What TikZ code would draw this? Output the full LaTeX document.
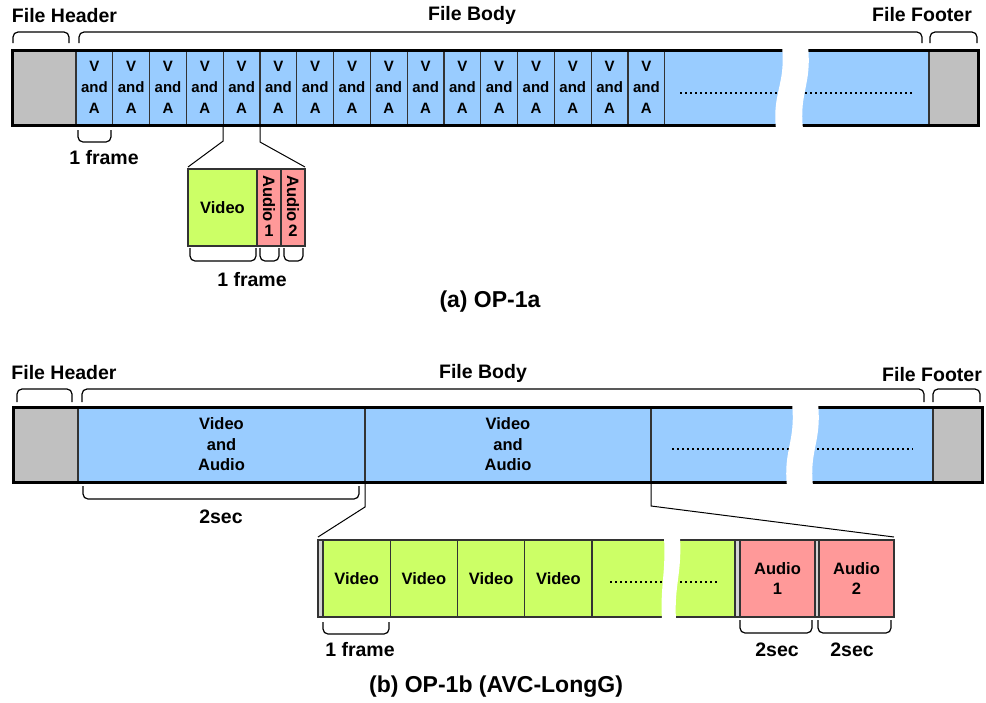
\documentclass[tikz,border=0pt]{standalone}
\usepackage{fontspec}
\setmainfont{Liberation Sans}
\usetikzlibrary{calc, positioning}
\definecolor{bodyBlue}{HTML}{99CCFF}
\definecolor{hdrGrey}{HTML}{C0C0C0}
\definecolor{vidGreen}{HTML}{CCFF66}
\definecolor{audPink}{HTML}{FF9999}
\definecolor{edgeGrey}{HTML}{333333}
\tikzset{
  seg/.style    = {draw=edgeGrey, line width=1.2pt, inner sep=0pt, outer sep=0pt,
                   anchor=north west, minimum height=75pt, align=center},
  hdr/.style    = {seg, fill=hdrGrey},
  cell/.style   = {seg, fill=bodyBlue, font=\fontsize{15}{21}\selectfont\bfseries},
  bigcell/.style= {seg, fill=bodyBlue, font=\fontsize{16.5}{20.5}\selectfont\bfseries},
  vid/.style    = {seg, fill=vidGreen, minimum height=77pt, font=\fontsize{16.5}{20}\selectfont\bfseries},
  aud/.style    = {seg, fill=audPink, minimum height=77pt, font=\fontsize{16.5}{20}\selectfont\bfseries},
  strip/.style  = {seg, fill=hdrGrey!70, minimum height=77pt},
  frame/.style  = {draw=black, line width=3pt},
  brc/.style    = {draw=black, line width=1.2pt, rounded corners=5pt},
  zl/.style     = {draw=black, line width=1pt},
  dots/.style   = {draw=black, line width=2pt, dash pattern=on 2pt off 3pt},
  gap/.style    = {fill=white, draw=none},
  lbl/.style    = {font=\fontsize{19.5}{22}\selectfont\bfseries, inner sep=0pt},
  txt/.style    = {font=\fontsize{16.5}{20}\selectfont\bfseries, inner sep=0pt},
  capt/.style   = {font=\fontsize{23}{26}\selectfont\bfseries, inner sep=0pt}
}
\begin{document}
\begin{tikzpicture}[x=1pt, y=-1pt]
  \useasboundingbox (0,0) rectangle (986,702);

  % (a) OP-1a
  \node[hdr, minimum width=64pt] (hdrA) at (12,50) {};
  \foreach \i in {1,...,16}
    \node[cell, minimum width=36.8pt] (va\i) at ({76+36.8*(\i-1)},50) {V\\and\\A};
  \node[cell, minimum width=264.2pt] (restA) at (va16.north east) {};
  \node[hdr, minimum width=49pt] (ftrA) at (restA.north east) {};
  \draw[frame] (hdrA.north west) rectangle (ftrA.south east);
  \draw[dots] (680,93) -- (913,93);
  \fill[gap] (782,46) .. controls (786,85) and (772,92) .. (776,129)
    -- (803,129) .. controls (799,92) and (812,85) .. (808,46) -- cycle;

  \draw[brc] (13,43) -- (13,32) -- (69,32) -- (69,43);
  \draw[brc] (79,43) -- (79,32) -- (922,32) -- (922,43);
  \draw[brc] (930,43) -- (930,32) -- (977,32) -- (977,43);
  \node[lbl] (fhA) at (64.5,16) {File Header};
  \node[lbl] (fbA) at (472,15) {File Body};
  \node[lbl] (ffA) at (922,15) {File Footer};

  \draw[brc] (78,130) -- (78,142) -- (111,142) -- (111,130);
  \node[lbl] (frA) at (104,158) {1 frame};

  \node[vid, minimum width=69pt] (vidA) at (188,169) {Video};
  \node[aud, minimum width=24pt] (audA1) at (vidA.north east) {};
  \node[aud, minimum width=24pt] (audA2) at (audA1.north east) {};
  \node[txt, rotate=-90] (audA1t) at ($(audA1.center)+(0,-9)$) {Audio};
  \node[txt, below=3pt of audA1t.east] {1};
  \node[txt, rotate=-90] (audA2t) at ($(audA2.center)+(0,-9)$) {Audio};
  \node[txt, below=3pt of audA2t.east] {2};
  \draw[zl] (va5.south west) -- ++(0,16) -- ([yshift=2pt]vidA.north west);
  \draw[zl] (va5.south east) -- ++(0,17) -- ([yshift=2pt]audA2.north east);

  \draw[brc] (190,248) -- (190,261) -- (256,261) -- (256,248);
  \draw[brc] (260,248) -- (260,261) -- (279,261) -- (279,248);
  \draw[brc] (284,248) -- (284,261) -- (303,261) -- (303,248);
  \node[lbl] (frA2) at (252,280) {1 frame};
  \node[capt] (capA) at (490,302) {(a) OP-1a};

  % (b) OP-1b (AVC-LongG)
  \node[hdr, minimum width=65pt] (hdrB) at (13,407) {};
  \node[bigcell, minimum width=287pt] (vaB1) at (hdrB.north east) {Video\\and\\Audio};
  \node[bigcell, minimum width=286pt] (vaB2) at (vaB1.north east) {Video\\and\\Audio};
  \node[bigcell, minimum width=282pt] (restB) at (vaB2.north east) {};
  \node[hdr, minimum width=49pt] (ftrB) at (restB.north east) {};
  \draw[frame] (hdrB.north west) rectangle (ftrB.south east);
  \draw[dots] (672,449) -- (913,449);
  \fill[gap] (792,403) .. controls (796,442) and (783,450) .. (787,486)
    -- (813,486) .. controls (809,450) and (822,442) .. (818,403) -- cycle;

  \draw[brc] (17,402) -- (17,389) -- (72,389) -- (72,402);
  \draw[brc] (82,402) -- (82,389) -- (924,389) -- (924,402);
  \draw[brc] (933,402) -- (933,389) -- (980,389) -- (980,402);
  \node[lbl] (fhB) at (64,373) {File Header};
  \node[lbl] (fbB) at (483,373) {File Body};
  \node[lbl] (ffB) at (932,375) {File Footer};

  \draw[brc] (83,486) -- (83,499) -- (359,499) -- (359,486);
  \node[lbl] (secB) at (221,517) {2sec};

  \node[strip, minimum width=5pt] (stripL) at (318,540) {};
  \node[vid, minimum width=67.25pt] (vid1) at (stripL.north east) {Video};
  \foreach \i [remember=\i as \prev (initially 1)] in {2,3,4}
    \node[vid, minimum width=67.25pt] (vid\i) at (vid\prev.north east) {Video};
  \node[vid, minimum width=143pt] (vidR) at (vid4.north east) {};
  \node[strip, minimum width=5pt] (stripM) at (vidR.north east) {};
  \node[aud, minimum width=75pt] (audB1) at (stripM.north east) {Audio\\1};
  \node[strip, minimum width=4pt] (stripN) at (audB1.north east) {};
  \node[aud, minimum width=75pt] (audB2) at (stripN.north east) {Audio\\2};
  \draw[dots] (610,582) -- (717,582);
  \fill[gap] (664,537) .. controls (666,575) and (660,585) .. (662,620)
    -- (676,620) .. controls (674,585) and (682,575) .. (680,537) -- cycle;
  \draw[zl] (vaB1.south east) -- ++(0,25) -- ([yshift=3pt]stripL.north west);
  \draw[zl] (vaB2.south east) -- ++(0,24) -- ([yshift=3pt]audB2.north east);

  \draw[brc] (323,622) -- (323,634) -- (389,634) -- (389,622);
  \draw[brc] (740,620) -- (740,633) -- (812,633) -- (812,620);
  \draw[brc] (818,620) -- (818,633) -- (891,633) -- (891,620);
  \node[lbl] (frB) at (360,650) {1 frame};
  \node[lbl] (secB1) at (777,650) {2sec};
  \node[lbl] (secB2) at (852,650) {2sec};
  \node[capt] (capB) at (496,687) {(b) OP-1b (AVC-LongG)};
\end{tikzpicture}
\end{document}
